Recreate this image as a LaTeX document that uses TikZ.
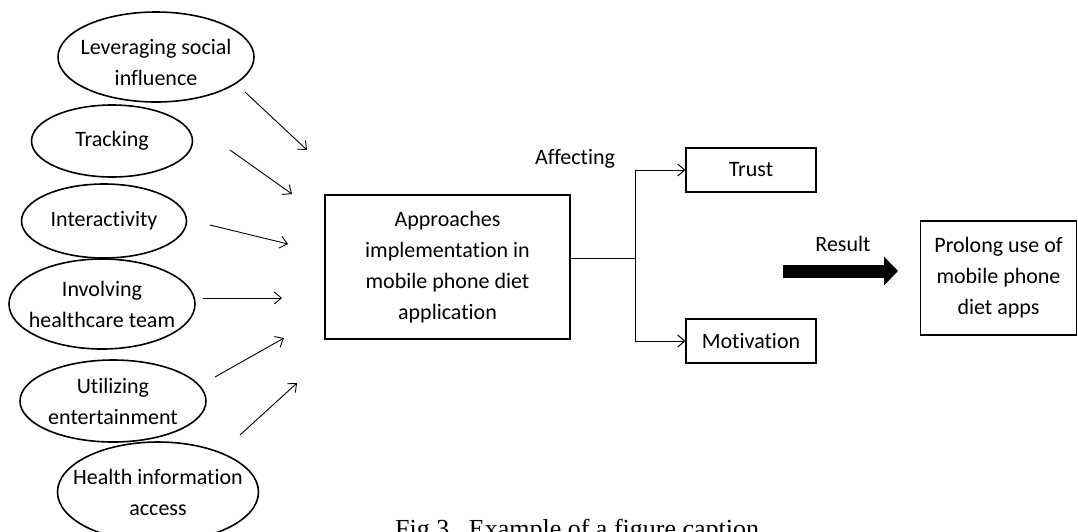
\documentclass[tikz,border=0pt]{standalone}
\usepackage{fontspec}
\setmainfont{Carlito}[Ligatures=NoCommon]
\newfontfamily\capfont{Liberation Serif}
\usetikzlibrary{shapes.geometric,arrows.meta}
\begin{document}
\begin{tikzpicture}[x=1pt,y=-1pt,
  txt/.style={font=\fontsize{22}{31}\selectfont, align=center, inner sep=0pt},
  oval/.style={draw, ellipse, line width=1.6pt, inner sep=0pt},
  box/.style={draw, rectangle, line width=1.1pt, inner sep=0pt, font=\fontsize{22}{31}\selectfont, align=center},
  thinarrow/.style={line width=0.9pt, -{Straight Barb[length=7pt,width=12pt]}},
  link/.style={line width=1pt}]
\useasboundingbox (0,0) rectangle (1078,531);
\clip (0,0) rectangle (1078,531);
% ellipses
\node[oval, minimum width=196pt, minimum height=90pt, label={[txt, yshift=-5pt]center:Leveraging social\\influence}] (e1) at (156,57) {};
\node[oval, minimum width=161pt, minimum height=72pt, label={[txt]center:Tracking}] (e2) at (112,141) {};
\node[oval, minimum width=165pt, minimum height=74pt, label={[txt]center:Interactivity}] (e3) at (104,221) {};
\node[oval, minimum width=186pt, minimum height=90pt, label={[txt]center:Involving\\healthcare team}] (e4) at (102,304) {};
\node[oval, minimum width=186pt, minimum height=82pt, label={[txt]center:Utilizing\\entertainment}] (e5) at (113,401) {};
\node[oval, minimum width=201pt, minimum height=100pt, label={[txt]center:Health information\\access}] (e6) at (158,492) {};
% free arrows
\coordinate (a1s) at (245,92);  \coordinate (a1e) at (307,150);
\coordinate (a2s) at (230,150); \coordinate (a2e) at (292,194);
\coordinate (a3s) at (210,225); \coordinate (a3e) at (288,244);
\coordinate (a4s) at (203,298); \coordinate (a4e) at (282,298);
\coordinate (a5s) at (215,377); \coordinate (a5e) at (284,338);
\coordinate (a6s) at (240,435); \coordinate (a6e) at (297,383);
\foreach \i in {1,...,6} {\draw[thinarrow] (a\i s) -- (a\i e);}
% central box
\node[box, minimum width=245pt, minimum height=144pt] (ap) at (447.5,267) {Approaches\\implementation in\\mobile phone diet\\application};
\node[box, minimum width=130pt, minimum height=44pt] (tr) at (751,170) {Trust};
\node[box, minimum width=130pt, minimum height=44pt] (mo) at (751,341) {Motivation};
\node[box, minimum width=156pt, minimum height=114pt] (pr) at (998.5,278) {Prolong use of\\mobile phone\\diet apps};
\node[txt] (aff) at (575,159) {Affecting};
\node[txt] (res) at (843,244) {Result};
% connectors
\coordinate (jn) at (635,258);
\draw[link] (ap.east |- jn) -- (jn);
\draw[link, -{Straight Barb[length=7pt,width=12pt]}] (jn) |- (tr.west);
\draw[link, -{Straight Barb[length=7pt,width=12pt]}] (jn) |- (mo.west);
% thick result arrow
\coordinate (ra) at (783,271); \coordinate (rb) at (898,271);
\draw[line width=13pt, -{Triangle[length=14pt,width=28pt]}] (ra) -- (rb);
% caption
\node[font=\capfont\fontsize{26}{30}\selectfont, anchor=base west, inner sep=0pt] (cap) at (395,537) {Fig.3.\ \ Example of a figure caption};
\end{tikzpicture}
\end{document}
